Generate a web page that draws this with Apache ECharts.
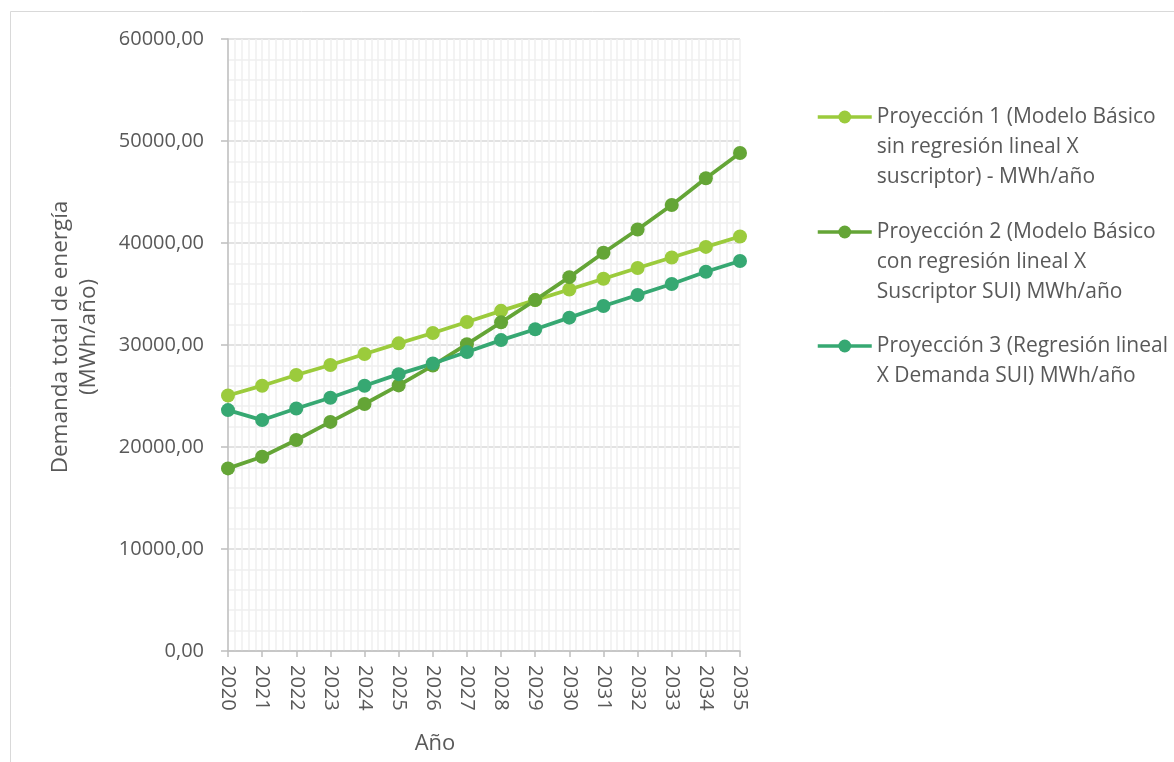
<!DOCTYPE html>
<html>
<head>
<meta charset="utf-8">
<script src="https://cdn.jsdelivr.net/npm/echarts@6/dist/echarts.min.js"></script>
<style>
  html, body { margin: 0; padding: 0; background: #ffffff; }
  #chart { width: 1174px; height: 762px; }
</style>
</head>
<body>
<div id="chart"></div>
<script>
// Años de la proyección
const years = [2020, 2021, 2022, 2023, 2024, 2025, 2026, 2027, 2028, 2029, 2030, 2031, 2032, 2033, 2034, 2035];

// Demanda total de energía (MWh/año) por proyección
const proyeccion1 = [25050, 26010, 27060, 28040, 29120, 30160, 31180, 32250, 33350, 34400, 35440, 36490, 37550, 38580, 39620, 40640];
const proyeccion2 = [17900, 19050, 20690, 22460, 24220, 26040, 27980, 30080, 32220, 34400, 36650, 39040, 41320, 43730, 46350, 48820];
const proyeccion3 = [23620, 22640, 23780, 24830, 26010, 27140, 28180, 29320, 30480, 31550, 32680, 33820, 34900, 35980, 37180, 38230];

// Nombres de las series y su texto partido en líneas para la leyenda
const seriesNames = [
  'Proyección 1 (Modelo Básico sin regresión lineal X suscriptor) - MWh/año',
  'Proyección 2 (Modelo Básico con regresión lineal X Suscriptor SUI) MWh/año',
  'Proyección 3 (Regresión lineal X Demanda SUI) MWh/año'
];
const legendLines = [
  ['Proyección 1 (Modelo Básico', 'sin regresión lineal X', 'suscriptor) - MWh/año'],
  ['Proyección 2 (Modelo Básico', 'con regresión lineal X', 'Suscriptor SUI) MWh/año'],
  ['Proyección 3 (Regresión lineal', 'X Demanda SUI) MWh/año']
];
const seriesColors = ['#9BCB3C', '#64A536', '#36A872'];
const yTicks = { min: 0, max: 60000, interval: 10000 };

const FONT = '"Open Sans", "DejaVu Sans", sans-serif';
const TEXT = '#595959';

const chart = echarts.init(document.getElementById('chart'), null, { renderer: 'canvas' });

function pairs(values) {
  return years.map((y, i) => [y, values[i]]);
}

// La primera línea de cada entrada queda alineada con el icono:
// se añaden líneas vacías arriba para que quede en el centro del bloque.
function legendText(lines) {
  const pad = lines.length - 1;
  return '\n'.repeat(pad) + lines.join('\n');
}

const LINE_H = 30;
const firstLineCenters = [117, 232, 346];
const legends = seriesNames.map((name, i) => {
  const total = legendLines[i].length * 2 - 1;
  return {
    show: true,
    orient: 'vertical',
    left: 816,
    top: firstLineCenters[i] - (total * LINE_H) / 2,
    padding: 0,
    itemWidth: 54,
    itemHeight: 16,
    itemGap: 0,
    selectedMode: false,
    data: [name],
    lineStyle: { width: 3.5 },
    formatter: () => legendText(legendLines[i]),
    textStyle: { fontFamily: FONT, fontSize: 21, lineHeight: LINE_H, color: TEXT }
  };
});

const values = [proyeccion1, proyeccion2, proyeccion3];

chart.setOption({
  animation: false,
  backgroundColor: '#ffffff',
  textStyle: { fontFamily: FONT },
  graphic: [{
    type: 'rect',
    left: 8, top: 9,
    shape: { width: 1300, height: 900 },
    style: { fill: 'none', stroke: '#d9d9d9', lineWidth: 1 },
    silent: true
  }],
  grid: { left: 228, right: 434, top: 39, bottom: 111, containLabel: false },
  legend: legends,
  xAxis: {
    type: 'value',
    min: years[0],
    max: years[years.length - 1],
    interval: 1,
    name: 'Año',
    nameLocation: 'middle',
    nameGap: 82,
    nameTextStyle: { fontFamily: FONT, fontSize: 22, color: TEXT, padding: [0, 98, 0, 0] },
    axisLine: { show: true, lineStyle: { color: '#bfbfbf', width: 1.5 } },
    axisTick: { show: true, inside: false, length: 6, lineStyle: { color: '#bfbfbf', width: 1.5 } },
    axisLabel: {
      rotate: -90,
      margin: 14,
      fontFamily: FONT,
      fontSize: 20,
      color: TEXT,
      formatter: (v) => String(v)
    },
    splitLine: { show: true, lineStyle: { color: '#efefef', width: 1.5 } },
    minorTick: { show: false, splitNumber: 5 },
    minorSplitLine: { show: true, lineStyle: { color: '#efefef', width: 1.5 } }
  },
  yAxis: {
    type: 'value',
    min: yTicks.min,
    max: yTicks.max,
    interval: yTicks.interval,
    name: 'Demanda total de energía\n(MWh/año)',
    nameLocation: 'middle',
    nameGap: 125,
    nameRotate: 90,
    nameTextStyle: { fontFamily: FONT, fontSize: 22.5, lineHeight: 28, color: TEXT, align: 'center', padding: [0, 0, 0, 16] },
    axisLine: { show: true, lineStyle: { color: '#bfbfbf', width: 1.5 } },
    axisTick: { show: true, inside: false, length: 7, lineStyle: { color: '#bfbfbf', width: 1.5 } },
    axisLabel: {
      margin: 24,
      fontFamily: FONT,
      fontSize: 20,
      color: TEXT,
      formatter: (v) => v.toFixed(2).replace('.', ',')
    },
    splitLine: { show: true, lineStyle: { color: '#d9d9d9', width: 1.5 } },
    minorTick: { show: false, splitNumber: 5 },
    minorSplitLine: { show: true, lineStyle: { color: '#efefef', width: 1.5 } }
  },
  series: values.map((vals, i) => ({
    name: seriesNames[i],
    type: 'line',
    data: pairs(vals),
    symbol: 'circle',
    symbolSize: 14,
    showSymbol: true,
    lineStyle: { color: seriesColors[i], width: 3.8 },
    itemStyle: { color: seriesColors[i], borderWidth: 0 },
    emphasis: { disabled: true }
  }))
});
</script>
</body>
</html>
